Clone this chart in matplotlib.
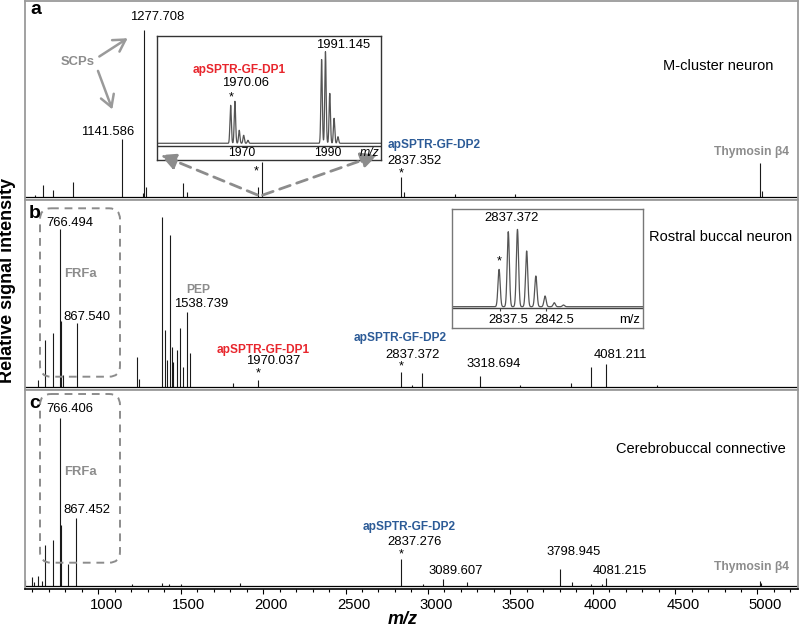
import matplotlib
matplotlib.use("Agg")
import matplotlib.pyplot as plt
import numpy as np
from matplotlib.transforms import Affine2D, ScaledTranslation
from matplotlib.patches import FancyBboxPatch, FancyArrowPatch
from matplotlib.ticker import MultipleLocator

plt.rcParams['font.family'] = ['Liberation Sans', 'DejaVu Sans']

# ---- spectra (m/z, relative intensity) ----
mz_a = [616, 662.6, 725, 844.6, 1141.586, 1269.4, 1277.708, 1289.4, 1515.8, 1536.4,
        1970.06, 1991.145, 2837.352, 2852, 3164.4, 3528.5, 5015, 5026]
int_a = [2, 12, 7, 15, 58, 4, 167, 10, 14, 5,
         10, 35, 20, 5, 3, 3, 34, 6]

mz_b = [632.3, 678.4, 723.3, 766.494, 770.6, 787.6, 867.540, 1233, 1249,
        1384.7, 1404.7, 1415, 1435, 1445.4, 1455.1, 1475.7, 1497.6, 1512, 1538.739, 1558.3,
        1819.2, 1970.037, 2837.372, 2901.7, 2962.4, 3318.694, 3559, 3870, 3987.8, 4081.211, 4388]
int_b = [6.7, 46.7, 53.4, 157.4, 66, 12, 63.4, 30, 8,
         169.4, 56.7, 26.7, 151.7, 40, 25, 36.7, 58.4, 20, 75, 33.4,
         3.7, 6.7, 15, 2, 13.4, 10.7, 2, 4, 20, 22.4, 2]

mz_c = [557, 595.9, 611.6, 632.3, 656.5, 678.4, 723.3, 766.406, 770.6, 814.3, 867.452,
        1202.7, 1384.7, 1430, 1500, 1859.8, 2837.276, 2968.5, 3089.607, 3235.4,
        3798.945, 3872.4, 3987.8, 4056.3, 4081.215, 5015, 5023]
int_c = [6, 9.3, 4, 10, 5, 41, 46, 167.7, 61, 22, 67.7,
         2, 3, 2, 2, 3, 26.7, 2, 6.7, 4.3,
         16.7, 4.3, 2, 2, 8.3, 5, 3.5]

# insets: isotope clusters
inset_a_mz = [1970.07, 1971.07, 1972.07, 1973.1, 1974.1, 1991.2, 1992.1, 1993.1, 1994.1, 1995.0]
inset_a_int = [38, 42, 13, 8, 3, 84, 91.6, 50, 25, 6.6]
inset_b_mz = [2837.4, 2838.4, 2839.4, 2840.4, 2841.4, 2842.4, 2843.4, 2844.4]
inset_b_int = [37.3, 75, 77.3, 55.7, 30.7, 10.7, 4, 1.7]

RED = '#e8262d'
BLUE = '#2c5b97'
GRAY = '#8c8c8c'

W, H = 800, 628
fig = plt.figure(figsize=(8, 6.28), dpi=100)
px = Affine2D().scale(1 / W, -1 / H).translate(0, 1) + fig.transFigure


def rect(x0, y0, x1, y1):
    return [x0 / W, 1 - y1 / H, (x1 - x0) / W, (y1 - y0) / H]


def txt(x, y, s, **kw):
    kw.setdefault('ha', 'center')
    kw.setdefault('va', 'center')
    kw.setdefault('fontsize', 9.4)
    fig.text(x, y, s, transform=px, **kw)


panels = [
    (rect(25, 1, 798, 200), (-3, 196), mz_a, int_a),
    (rect(25, 200, 798, 389.5), (-2.8, 186.7), mz_b, int_b),
    (rect(25, 389.5, 798, 589), (-3, 196.5), mz_c, int_c),
]
axes = []
for pos, ylim, mz, inten in panels:
    ax = fig.add_axes(pos)
    ax.vlines(mz, 0, inten, color='#1a1a1a', lw=0.8)
    ax.axhline(0, color='k', lw=0.9)
    ax.set_xlim(555, 5246)
    ax.set_ylim(*ylim)
    ax.set_yticks([])
    for s in ax.spines.values():
        s.set_color('#9a9a9a')
        s.set_linewidth(1.3)
    axes.append(ax)

for ax in axes[:2]:
    ax.set_xticks([])
ax_c = axes[2]
ax_c.spines['bottom'].set_color('k')
ax_c.spines['bottom'].set_linewidth(1.2)
ax_c.xaxis.set_major_locator(MultipleLocator(500))
ax_c.xaxis.set_minor_locator(MultipleLocator(100))
ax_c.set_xticks(np.arange(1000, 5001, 500))
ax_c.tick_params(axis='x', which='both', direction='out', length=3.5, width=0.8, labelsize=10.7, pad=3)
ax_c.tick_params(axis='x', which='minor', length=2.5)
for lab in ax_c.get_xticklabels():
    lab.set_transform(lab.get_transform() + ScaledTranslation(0.08, 0, fig.dpi_scale_trans))


def cluster(ax, mz, inten, xlo, xhi, sigma):
    x = np.linspace(xlo, xhi, 2000)
    y = np.zeros_like(x)
    for m, h in zip(mz, inten):
        y += h * np.exp(-0.5 * ((x - m) / sigma) ** 2)
    ax.plot(x, y, color='#555555', lw=0.9)


# inset a
ia = fig.add_axes(rect(156.7, 35.7, 381, 160))
ia.set_xlim(1952.9, 2005)
ia.set_ylim(-16.7, 107.6)
cluster(ia, inset_a_mz, inset_a_int, 1952.9, 2005, 0.16)
ia.axhline(-2.7, color='#333333', lw=1)
ia.set_xticks([])
ia.set_yticks([])
for s in ia.spines.values():
    s.set_color('#333333')
    s.set_linewidth(1)

# inset b
ib = fig.add_axes(rect(451.7, 209.3, 643.3, 328.3))
ib.set_xlim(2832.25, 2853.08)
ib.set_ylim(-21.6, 97.4)
cluster(ib, inset_b_mz, inset_b_int, 2832.25, 2853.08, 0.12)
ib.axhline(-1, color='#444444', lw=1)
ib.vlines([2837.5, 2842.5], -4, -1, color='#444444', lw=0.8)
ib.set_xticks([])
ib.set_yticks([])
for s in ib.spines.values():
    s.set_color('#777777')
    s.set_linewidth(1)

# ---- axis labels ----
txt(7.5, 280, 'Relative signal intensity', rotation=90, fontweight='bold', fontsize=13)
txt(403, 620, 'm/z', fontweight='bold', style='italic', fontsize=13)

# ---- panel a ----
txt(35.5, 9, 'a', fontweight='bold', fontsize=14)
txt(157.5, 17, '1277.708')
txt(107.5, 132.3, '1141.586')
txt(77.5, 62, 'SCPs', fontweight='bold', color=GRAY)
for a, b in [((97, 58), (130, 36.7)), ((97, 68.3), (113.3, 112))]:
    fig.add_artist(FancyArrowPatch(a, b, transform=px, arrowstyle='->,head_length=0.6,head_width=0.35',
                                   mutation_scale=14, color='#9a9a9a', lw=1.8))
for b in [(158, 154), (380, 154)]:
    fig.add_artist(FancyArrowPatch((260, 196), b, transform=px, arrowstyle='-|>,head_length=0.7,head_width=0.35',
                                   mutation_scale=14, color='#8c8c8c', lw=2, linestyle=(0, (4, 2.5))))
txt(343, 45, '1991.145')
txt(239, 70, 'apSPTR-GF-DP1', fontweight='bold', color=RED, fontsize=8.6)
txt(246, 83, '1970.06')
txt(231, 97, '*')
txt(241.7, 153, '1970', fontsize=8.8)
txt(327.7, 153, '1990', fontsize=8.8)
txt(370, 153, 'm/z', style='italic', fontsize=8.8)
txt(256.7, 171, '*')
txt(434.5, 145.3, 'apSPTR-GF-DP2', fontweight='bold', color=BLUE, fontsize=8.6)
txt(414.5, 161, '2837.352')
txt(401.7, 173.5, '*')
txt(751, 152, 'Thymosin β4', fontweight='bold', color=GRAY, fontsize=8.7)
txt(718.5, 65.7, 'M-cluster neuron', fontsize=10.5)

# ---- panel b ----
txt(35, 213, 'b', fontweight='bold', fontsize=14)
txt(70, 222.7, '766.494')
txt(80, 274, 'FRFa', fontweight='bold', color=GRAY)
txt(87.3, 316.7, '867.540')
txt(198.3, 290, 'PEP', fontweight='bold', color=GRAY, fontsize=8.7)
txt(200.7, 304, '1538.739')
txt(263.3, 350, 'apSPTR-GF-DP1', fontweight='bold', color=RED, fontsize=8.6)
txt(273.3, 361.3, '1970.037')
txt(258.3, 373.5, '*')
txt(399.7, 338.3, 'apSPTR-GF-DP2', fontweight='bold', color=BLUE, fontsize=8.6)
txt(413, 354.5, '2837.372')
txt(401.7, 366, '*')
txt(493.3, 364.3, '3318.694')
txt(620, 355, '4081.211')
txt(649.3, 236.7, 'Rostral buccal neuron', ha='left', fontsize=10.5)
txt(511.7, 218.3, '2837.372')
txt(499.3, 261, '*')
txt(508, 320, '2837.5')
txt(554, 320, '2842.5')
txt(630, 320, 'm/z')

# ---- panel c ----
txt(35, 403, 'c', fontweight='bold', fontsize=14)
txt(70, 409.3, '766.406')
txt(80, 471.7, 'FRFa', fontweight='bold', color=GRAY)
txt(87.3, 510, '867.452')
txt(409, 526.7, 'apSPTR-GF-DP2', fontweight='bold', color=BLUE, fontsize=8.6)
txt(415, 541.7, '2837.276')
txt(401.7, 554, '*')
txt(456, 570.7, '3089.607')
txt(573.3, 551.7, '3798.945')
txt(620, 570.7, '4081.215')
txt(752, 566.7, 'Thymosin β4', fontweight='bold', color=GRAY, fontsize=8.7)
txt(701.3, 449, 'Cerebrobuccal connective', fontsize=10.5)

# dashed FRFa boxes
for y0, y1 in [(208.3, 376.7), (394, 562.7)]:
    fig.add_artist(FancyBboxPatch((40, y0), 80, y1 - y0, transform=px,
                                  boxstyle='round,pad=0,rounding_size=11', fill=False,
                                  ec='#8c8c8c', lw=1.4, linestyle=(0, (4, 3))))

fig.savefig('out.png', dpi=100)
